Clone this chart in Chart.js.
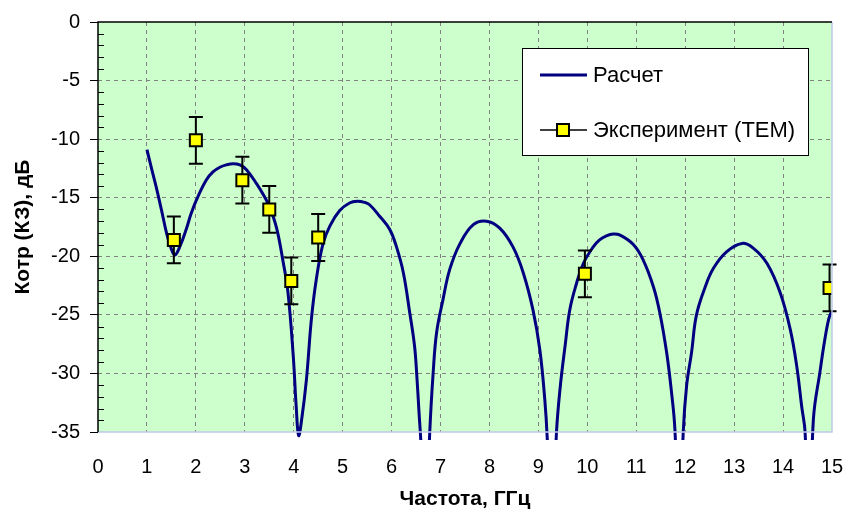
<!DOCTYPE html>
<html>
<head>
<meta charset="utf-8">
<script src="https://cdn.jsdelivr.net/npm/chart.js@4.4.1/dist/chart.umd.min.js"></script>
<style>
  html, body { margin: 0; padding: 0; background: #fff; }
  #wrap { width: 845px; height: 520px; }
</style>
</head>
<body>
<div id="wrap"><canvas id="kotrChart"></canvas></div>
<script>
// расчет
const freqCalc = [1.00, 1.10, 1.19, 1.30, 1.40, 1.50, 1.57, 1.67, 1.81, 1.90,
  2.01, 2.21, 2.35, 2.49, 2.62, 2.76, 2.90, 3.03, 3.24, 3.40,
  3.51, 3.65, 3.78, 3.88, 3.99, 4.05, 4.10, 4.16, 4.26, 4.36,
  4.46, 4.60, 4.74, 4.94, 5.14, 5.30, 5.45, 5.55, 5.76, 5.96,
  6.10, 6.24, 6.37, 6.47, 6.52, 6.56, 6.60, 6.69, 6.78, 6.85,
  6.92, 7.05, 7.19, 7.40, 7.67, 7.94, 8.21, 8.48, 8.69, 8.89,
  9.03, 9.13, 9.18, 9.27, 9.37, 9.45, 9.55, 9.64, 9.78, 9.92,
  10.12, 10.25, 10.39, 10.53, 10.67, 10.94, 11.14, 11.35, 11.48, 11.62,
  11.72, 11.79, 11.88, 11.96, 12.03, 12.13, 12.23, 12.41, 12.58, 12.85,
  13.16, 13.39, 13.67, 13.94, 14.15, 14.28, 14.38, 14.45, 14.53, 14.62,
  14.76, 14.83, 14.93, 15.00];
const kotrCalc = [-10.9, -12.6, -14.1, -16.1, -18.0, -19.4, -19.9, -19.2, -17.6, -16.4,
  -15.2, -13.5, -12.8, -12.4, -12.2, -12.1, -12.2, -12.6, -13.8, -14.9,
  -15.8, -17.6, -20.4, -23.0, -28.5, -32.8, -35.3, -34.0, -30.5, -25.4,
  -22.0, -18.9, -17.4, -16.1, -15.45, -15.3, -15.4, -15.6, -16.6, -17.7,
  -19.2, -21.4, -24.8, -27.7, -30.5, -33.3, -36.0, -45.0, -35.0, -29.9,
  -26.5, -23.7, -21.1, -18.9, -17.3, -17.0, -17.6, -19.2, -21.4, -24.6,
  -28.0, -32.2, -35.5, -45.0, -35.0, -31.0, -27.5, -24.6, -22.3, -20.6,
  -19.2, -18.6, -18.25, -18.1, -18.2, -19.0, -20.3, -22.6, -24.8, -28.2,
  -31.6, -34.8, -45.0, -35.0, -31.0, -28.2, -25.0, -22.6, -21.0, -19.6,
  -18.9, -19.3, -20.6, -23.1, -26.3, -29.4, -32.8, -35.0, -45.0, -33.9,
  -29.7, -27.7, -25.4, -24.6];

// эксперимент (TEM)
const freqExp = [1.55, 2.0, 2.95, 3.5, 3.95, 4.5, 9.95, 14.95];
const kotrExp = [-18.6, -10.1, -13.5, -16.0, -22.1, -18.4, -21.5, -22.7];
const errExp = [2, 2, 2, 2, 2, 2, 2, 2];

const xTickValues = [0, 1, 2, 3, 4, 5, 6, 7, 8, 9, 10, 11, 12, 13, 14, 15];
const yTickValues = [0, -5, -10, -15, -20, -25, -30, -35];

const seriesNames = ["Расчет", "Эксперимент (TEM)"];

Chart.defaults.font.family = '"Liberation Sans", Arial, sans-serif';
Chart.defaults.font.size = 20;
Chart.defaults.color = "#000";

const plotBg = {
  id: "plotBg",
  beforeDraw(chart) {
    const { ctx, chartArea: a } = chart;
    ctx.save();
    ctx.fillStyle = "#CCFFCC";
    ctx.fillRect(a.left, a.top, a.right - a.left, a.bottom - a.top);
    ctx.restore();
  },
  afterDraw(chart) {
    const { ctx, chartArea: a } = chart;
    const ys = chart.scales.y;
    ctx.save();
    // рамка
    ctx.lineWidth = 1.5;
    ctx.strokeStyle = "#C0C8E8";
    ctx.beginPath();
    ctx.moveTo(a.right, a.top);
    ctx.lineTo(a.right, a.bottom);
    ctx.lineTo(a.left, a.bottom);
    ctx.stroke();
    ctx.strokeStyle = "#000";
    ctx.beginPath();
    ctx.moveTo(a.right, a.top);
    ctx.lineTo(a.left, a.top);
    ctx.lineTo(a.left, a.bottom);
    ctx.stroke();
    // мелкие штрихи по оси Y
    ctx.lineWidth = 1;
    for (let v = -34; v < 0; v++) {
      if (v % 5 === 0) continue;
      const py = Math.round(ys.getPixelForValue(v)) + 0.5;
      ctx.beginPath();
      ctx.moveTo(a.left, py);
      ctx.lineTo(a.left + 6, py);
      ctx.stroke();
    }
    ctx.restore();
  }
};

const errorBars = {
  id: "errorBars",
  beforeDatasetDraw(chart, args) {
    if (args.index !== 0) return;
    const { ctx } = chart;
    const xs = chart.scales.x, ys = chart.scales.y;
    ctx.save();
    ctx.strokeStyle = "#000";
    ctx.lineWidth = 2;
    freqExp.forEach((f, i) => {
      const px = xs.getPixelForValue(f);
      const top = ys.getPixelForValue(kotrExp[i] + errExp[i]);
      const bot = ys.getPixelForValue(kotrExp[i] - errExp[i]);
      ctx.beginPath();
      ctx.moveTo(px, top); ctx.lineTo(px, bot);
      ctx.moveTo(px - 7, top); ctx.lineTo(px + 7, top);
      ctx.moveTo(px - 7, bot); ctx.lineTo(px + 7, bot);
      ctx.stroke();
    });
    ctx.restore();
  }
};

const legendBox = {
  id: "legendBox",
  afterDraw(chart) {
    const { ctx } = chart;
    const bx = 522, by = 48, bw = 286, bh = 107;
    ctx.save();
    ctx.fillStyle = "#fff";
    ctx.fillRect(bx, by, bw, bh);
    ctx.strokeStyle = "#000";
    ctx.lineWidth = 1;
    ctx.strokeRect(bx + 0.5, by + 0.5, bw, bh);

    ctx.strokeStyle = "#000080";
    ctx.lineWidth = 3;
    ctx.beginPath(); ctx.moveTo(540, 75); ctx.lineTo(587, 75); ctx.stroke();

    ctx.strokeStyle = "#000";
    ctx.lineWidth = 1.5;
    ctx.beginPath(); ctx.moveTo(540, 130); ctx.lineTo(587, 130); ctx.stroke();
    ctx.fillStyle = "#FFFF00";
    ctx.lineWidth = 2;
    ctx.fillRect(557, 124, 12, 12);
    ctx.strokeRect(557, 124, 12, 12);

    ctx.fillStyle = "#000";
    ctx.font = '22px "Liberation Sans", Arial, sans-serif';
    ctx.textBaseline = "middle";
    ctx.textAlign = "left";
    ctx.fillText(seriesNames[0], 593, 76);
    ctx.fillText(seriesNames[1], 593, 131);
    ctx.restore();
  }
};

const data = {
  datasets: [
    {
      label: seriesNames[1],
      data: freqExp.map((f, i) => ({ x: f, y: kotrExp[i] })),
      showLine: false,
      pointStyle: "rect",
      pointRadius: 8.5,
      pointHoverRadius: 8.5,
      pointBackgroundColor: "#FFFF00",
      pointBorderColor: "#000",
      pointBorderWidth: 2,
      order: 0
    },
    {
      label: seriesNames[0],
      data: freqCalc.map((f, i) => ({ x: f, y: kotrCalc[i] })),
      showLine: true,
      borderColor: "#000080",
      borderWidth: 3,
      pointRadius: 0,
      tension: 0.4,
      clip: { left: 0, top: 0, right: 0, bottom: 8 },
      order: 1
    }
  ]
};

const config = {
  type: "scatter",
  data: data,
  options: {
    responsive: true,
    maintainAspectRatio: false,
    animation: false,
    layout: { padding: { top: 21, right: 13, left: 0, bottom: 0 } },
    plugins: {
      legend: { display: false },
      tooltip: { enabled: false }
    },
    scales: {
      x: {
        type: "linear",
        min: 0,
        max: 15,
        afterBuildTicks: (s) => { s.ticks = xTickValues.map((v) => ({ value: v })); },
        afterFit: (s) => { s.height = 88; s.paddingLeft = 0; s.paddingRight = 0; },
        grid: {
          color: (c) => (c.tick && (c.tick.value === 0 || c.tick.value === 15)) ? "rgba(0,0,0,0)" : "#808080",
          lineWidth: 1,
          drawTicks: false
        },
        border: { display: false, dash: [4, 4] },
        ticks: { padding: 23, autoSkip: false, maxRotation: 0, color: "#000" },
        title: {
          display: true,
          text: "Частота, ГГц",
          font: { size: 21, weight: "bold" },
          padding: { top: 8, bottom: 8 }
        }
      },
      y: {
        type: "linear",
        min: -35,
        max: 0,
        afterBuildTicks: (s) => { s.ticks = yTickValues.map((v) => ({ value: v })); },
        afterFit: (s) => { s.width = 98; },
        grid: {
          color: (c) => (c.tick && (c.tick.value === 0 || c.tick.value === -35)) ? "rgba(0,0,0,0)" : "#808080",
          lineWidth: 1,
          drawTicks: true,
          tickLength: 8,
          tickColor: "#000"
        },
        border: { display: false, dash: [4, 4] },
        ticks: { padding: 10, color: "#000" },
        title: {
          display: true,
          text: "Котр (КЗ), дБ",
          font: { size: 21, weight: "bold" },
          padding: { top: 11, bottom: 11 }
        }
      }
    }
  },
  plugins: [plotBg, errorBars, legendBox]
};

let myChart = new Chart(document.getElementById("kotrChart"), config);
</script>
</body>
</html>
